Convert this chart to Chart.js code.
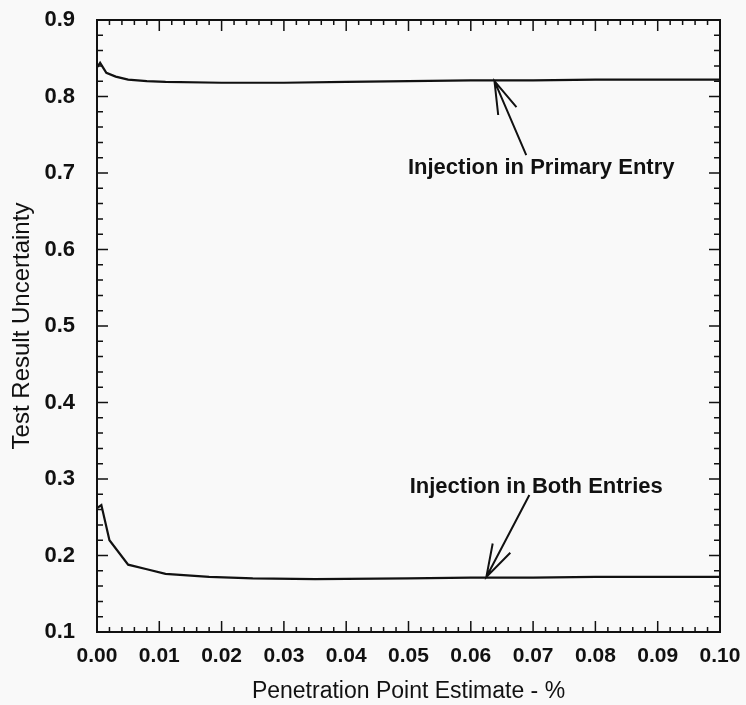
<!DOCTYPE html>
<html><head><meta charset="utf-8">
<script src="https://cdn.jsdelivr.net/npm/chart.js@4"></script>
<style>html,body{margin:0;padding:0;background:#f9f9f9}#wrap{width:746px;height:705px}</style>
</head><body><div id="wrap"><canvas id="c" width="746" height="705"></canvas></div>
<script>
const primaryX = [0, 0.0005, 0.0015, 0.003, 0.005, 0.008, 0.011, 0.02, 0.03, 0.04, 0.05, 0.06, 0.07, 0.08, 0.09, 0.1];
const primaryY = [0.838, 0.844, 0.831, 0.826, 0.822, 0.820, 0.819, 0.818, 0.818, 0.819, 0.820, 0.821, 0.821, 0.822, 0.822, 0.822];
const bothX = [0, 0.0007, 0.002, 0.005, 0.008, 0.011, 0.018, 0.025, 0.035, 0.05, 0.06, 0.07, 0.08, 0.09, 0.1];
const bothY = [0.262, 0.266, 0.220, 0.188, 0.182, 0.176, 0.172, 0.170, 0.169, 0.170, 0.171, 0.171, 0.172, 0.172, 0.172];
const xTicks = [0, 0.01, 0.02, 0.03, 0.04, 0.05, 0.06, 0.07, 0.08, 0.09, 0.10];
const yTicks = [0.1, 0.2, 0.3, 0.4, 0.5, 0.6, 0.7, 0.8, 0.9];
const labels = ["Injection in Primary Entry", "Injection in Both Entries"];
const labelPos = [[0.0713, 0.706], [0.0705, 0.289]];
const arrowTail = [[0.0689, 0.7235], [0.0694, 0.279]];
const arrowTip = [[0.0638, 0.820], [0.0625, 0.172]];

const toPts = (xs, ys) => xs.map((x, i) => ({x, y: ys[i]}));
const FONT = "'Liberation Sans', Arial, sans-serif";

const decor = {
  id: 'decor',
  afterDraw(chart) {
    const {ctx, chartArea: a, scales: {x, y}} = chart;
    ctx.save();
    ctx.strokeStyle = '#111';
    ctx.lineWidth = 2;
    ctx.strokeRect(a.left, a.top, a.right - a.left, a.bottom - a.top);
    ctx.lineWidth = 1.5;
    ctx.beginPath();
    for (let i = 0; i <= 50; i++) {
      const v = i * 0.002;
      const px = x.getPixelForValue(v);
      const len = (i % 5 === 0) ? 11 : 5;
      ctx.moveTo(px, a.bottom); ctx.lineTo(px, a.bottom - len);
      ctx.moveTo(px, a.top); ctx.lineTo(px, a.top + len);
    }
    for (let i = 0; i <= 40; i++) {
      const v = 0.1 + i * 0.02;
      const py = y.getPixelForValue(v);
      const len = (i % 5 === 0) ? 11 : 6;
      ctx.moveTo(a.left, py); ctx.lineTo(a.left + len, py);
      ctx.moveTo(a.right, py); ctx.lineTo(a.right - len, py);
    }
    ctx.stroke();
    // annotations
    ctx.fillStyle = '#111';
    ctx.font = 'bold 22px ' + FONT;
    ctx.textAlign = 'center';
    ctx.textBaseline = 'middle';
    labels.forEach((t, i) => {
      ctx.fillText(t, x.getPixelForValue(labelPos[i][0]), y.getPixelForValue(labelPos[i][1]));
      const tx = x.getPixelForValue(arrowTail[i][0]), ty = y.getPixelForValue(arrowTail[i][1]);
      const hx = x.getPixelForValue(arrowTip[i][0]), hy = y.getPixelForValue(arrowTip[i][1]);
      const ang = Math.atan2(ty - hy, tx - hx);
      const L = 34, sp = 17 * Math.PI / 180;
      ctx.lineWidth = 2;
      ctx.beginPath();
      ctx.moveTo(tx, ty); ctx.lineTo(hx, hy);
      ctx.moveTo(hx + L * Math.cos(ang - sp), hy + L * Math.sin(ang - sp));
      ctx.lineTo(hx, hy);
      ctx.lineTo(hx + L * Math.cos(ang + sp), hy + L * Math.sin(ang + sp));
      ctx.stroke();
    });
    ctx.restore();
  }
};

new Chart(document.getElementById('c'), {
  type: 'scatter',
  data: {
    datasets: [
      {data: toPts(primaryX, primaryY), showLine: true, borderColor: '#111', borderWidth: 2.2, pointRadius: 0, tension: 0},
      {data: toPts(bothX, bothY), showLine: true, borderColor: '#111', borderWidth: 2.2, pointRadius: 0, tension: 0}
    ]
  },
  options: {
    responsive: false,
    animation: false,
    layout: {padding: {top: 20, right: 26, left: 0, bottom: 0}},
    plugins: {legend: {display: false}, tooltip: {enabled: false}},
    scales: {
      x: {
        type: 'linear', min: 0, max: 0.1,
        afterBuildTicks: s => { s.ticks = xTicks.map(v => ({value: v})); },
        afterFit: s => { s.height = 73; s.paddingLeft = 0; s.paddingRight = 0; },
        grid: {display: false},
        border: {display: false},
        ticks: {color: '#111', font: {family: FONT, size: 21, weight: 'bold'}, padding: 4, maxRotation: 0, autoSkip: false, callback: v => v.toFixed(2)},
        title: {display: true, text: 'Penetration Point Estimate - %', color: '#111', font: {family: FONT, size: 23}, padding: {top: 8, bottom: 0}}
      },
      y: {
        type: 'linear', min: 0.1, max: 0.9,
        afterBuildTicks: s => { s.ticks = yTicks.map(v => ({value: v})); },
        afterFit: s => { s.width = 97; s.paddingTop = 0; s.paddingBottom = 0; },
        grid: {display: false},
        border: {display: false},
        ticks: {color: '#111', font: {family: FONT, size: 22, weight: 'bold'}, padding: 14, callback: v => v.toFixed(1)},
        title: {display: true, text: 'Test Result Uncertainty', color: '#111', font: {family: FONT, size: 24}, padding: {top: 8, bottom: 0}}
      }
    }
  },
  plugins: [decor]
});
</script></body></html>
